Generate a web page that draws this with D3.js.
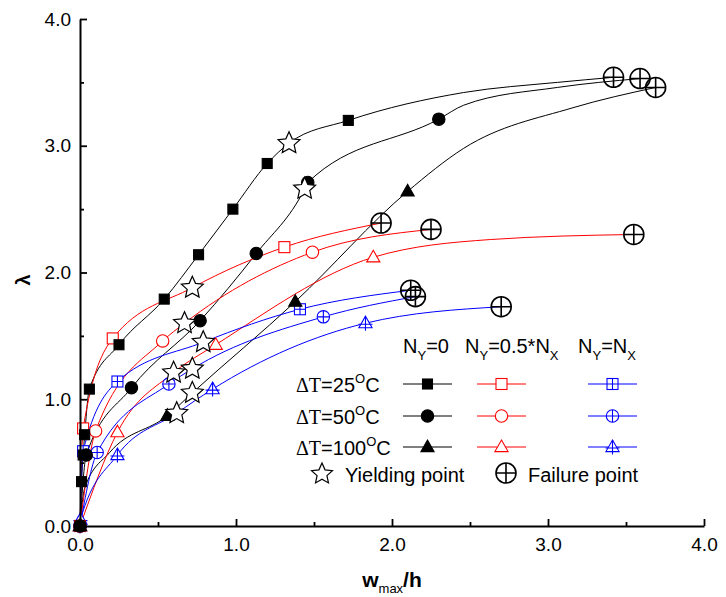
<!DOCTYPE html>
<html><head><meta charset="utf-8">
<script src="https://cdn.jsdelivr.net/npm/d3@7"></script>
<style>body{margin:0;background:#fff}svg{display:block}text{font-family:Arial,"Liberation Sans",sans-serif}</style>
</head><body><svg id="c" width="726" height="597"></svg>
<script>
// ---------- data ----------
const xTicks = [0, 1, 2, 3, 4];
const yTicks = [0, 1, 2, 3, 4];
const minorTicks = [0.5, 1.5, 2.5, 3.5];
const rowLabels = ["25", "50", "100"];
const colLabels = [["Y", "=0", ""], ["Y", "=0.5*N", "X"], ["Y", "=N", "X"]];

// marker points per series (x = w_max/h, y = λ)
const sqNY0   = [[0,0],[0.01,0.35],[0.02,0.56],[0.03,0.72],[0.06,1.08],[0.25,1.43],[0.54,1.79],[0.76,2.14],[0.98,2.50],[1.20,2.86],[1.72,3.20]];
const ciNY0   = [[0,0],[0.04,0.56],[0.33,1.09],[0.77,1.62],[1.13,2.15],[1.46,2.71],[2.30,3.21]];
const trNY0   = [[0,0],[0.56,0.87],[1.38,1.77],[2.10,2.64]];
const sqNY05  = [[0,0],[0.02,0.77],[0.21,1.48],[1.31,2.20]];
const ciNY05  = [[0,0],[0.10,0.75],[0.53,1.46],[1.49,2.16]];
const trNY05  = [[0,0],[0.24,0.74],[0.87,1.43],[1.88,2.12]];
const sqNY1   = [[0,0],[0.02,0.59],[0.24,1.14],[1.41,1.71]];
const ciNY1   = [[0,0],[0.11,0.58],[0.57,1.12],[1.56,1.65]];
const trNY1   = [[0,0],[0.003,0.05],[0.24,0.56],[0.85,1.08],[1.83,1.60]];

// extra curve points (no marker)
const viaSqNY0 = [[2.46,3.42],[3.06,3.50]];
const viaCiNY0 = [[2.46,3.32],[3.06,3.46]];
const viaTrNY0 = [[0.03,0.30],[0.19,0.58],[2.46,2.98],[3.16,3.30]];
const viaTrNY05 = [[2.63,2.26]];

// yielding points and failure points
const yieldPts = [[1.34,3.02],[1.44,2.66],[0.72,1.05],[0.72,1.88],[0.67,1.60],[0.60,1.21],[0.79,1.45],[0.72,1.24],[0.62,0.89]];
const failPts  = [[3.42,3.54],[3.59,3.53],[3.69,3.46],[1.93,2.39],[2.25,2.34],[3.55,2.30],[2.12,1.86],[2.15,1.81],[2.70,1.73]];

const seriesPts = [sqNY0, ciNY0, trNY0, sqNY05, ciNY05, trNY05, sqNY1, ciNY1, trNY1];
const seriesVia = [viaSqNY0, viaCiNY0, viaTrNY0, [], [], viaTrNY05, [], [], []];
const seriesShape = ["sqF","ciF","trF","sqO","ciO","trO","sqX","ciX","trX"];
const seriesColor = ["#000","#000","#000","#ff0000","#ff0000","#ff0000","#0000ff","#0000ff","#0000ff"];

// ---------- chart ----------
const svg = d3.select("#c");
const x = d3.scaleLinear().domain([0,4]).range([80,704]);
const y = d3.scaleLinear().domain([0,4]).range([526,19]);

function markerPath(g, shape, color, cx, cy){
  const s = g.append("g").attr("transform", `translate(${cx},${cy})`);
  const fill = shape.endsWith("F") ? color : "#fff";
  const sw = 1.1;
  if (shape.startsWith("sq")) {
    const h = shape.endsWith("F") ? 5 : 5.5;
    s.append("rect").attr("x",-h).attr("y",-h).attr("width",2*h).attr("height",2*h)
      .attr("fill",fill).attr("stroke",color).attr("stroke-width",sw);
    if (shape.endsWith("X")) s.append("path").attr("d",`M${-h},0H${h}M0,${-h}V${h}`).attr("stroke",color).attr("stroke-width",sw);
  } else if (shape.startsWith("ci")) {
    const r = 6.2;
    s.append("circle").attr("r",r).attr("fill",fill).attr("stroke",color).attr("stroke-width",sw);
    if (shape.endsWith("X")) s.append("path").attr("d",`M${-r},0H${r}M0,${-r}V${r}`).attr("stroke",color).attr("stroke-width",sw);
  } else {
    s.append("path").attr("d","M0,-7L6.6,4.6L-6.6,4.6Z").attr("fill",fill).attr("stroke",color).attr("stroke-width",sw);
    if (shape.endsWith("X")) s.append("path").attr("d","M-7,1H7M0,-7V7.5").attr("stroke",color).attr("stroke-width",sw);
  }
}
function starPath(R){
  const r = R*0.47; let d = "";
  for (let k=0;k<10;k++){
    const a = -Math.PI/2 + k*Math.PI/5, rr = k%2===0 ? R : r;
    d += (k===0?"M":"L") + (rr*Math.cos(a)).toFixed(2) + "," + (rr*Math.sin(a)).toFixed(2);
  }
  return d + "Z";
}
function drawStar(g, cx, cy, R){
  g.append("path").attr("d", starPath(R || 11.5)).attr("transform",`translate(${cx},${cy})`)
    .attr("fill","#fff").attr("stroke","#000").attr("stroke-width",1.2);
}
function drawFail(g, cx, cy){
  const r = 10;
  const s = g.append("g").attr("transform",`translate(${cx},${cy})`);
  s.append("circle").attr("r",r).attr("fill","none").attr("stroke","#000").attr("stroke-width",1.6);
  s.append("path").attr("d",`M${-r},0H${r}M0,${-r}V${r}`).attr("stroke","#000").attr("stroke-width",1.6);
}

// lines
const line = d3.line().x(d=>x(d[0])).y(d=>y(d[1])).curve(d3.curveMonotoneX);
const gl = svg.append("g");
seriesPts.forEach((pts,i)=>{
  const all = pts.concat(seriesVia[i], [yieldPts[i]], [failPts[i]]).sort((a,b)=>a[0]-b[0]);
  gl.append("path").attr("d", line(all)).attr("fill","none").attr("stroke",seriesColor[i]).attr("stroke-width",1);
});
// markers
const gm = svg.append("g");
[6,7,8,3,4,5,0,1,2].forEach(i=>{
  seriesPts[i].forEach(p=>markerPath(gm, seriesShape[i], seriesColor[i], x(p[0]), y(p[1])));
});
const gs = svg.append("g");
yieldPts.forEach(p=>drawStar(gs, x(p[0]), y(p[1])));
failPts.forEach(p=>drawFail(gs, x(p[0]), y(p[1])));

// axes
const fmt = d3.format(".1f");
svg.append("g").attr("transform","translate(0,526)")
  .call(d3.axisBottom(x).tickValues(xTicks).tickFormat(fmt).tickSizeInner(-7).tickSizeOuter(0).tickPadding(12));
svg.append("g").attr("transform","translate(80,0)")
  .call(d3.axisLeft(y).tickValues(yTicks).tickFormat(fmt).tickSizeInner(-7).tickSizeOuter(0).tickPadding(9));
svg.append("g").attr("transform","translate(0,526)")
  .call(d3.axisBottom(x).tickValues(minorTicks).tickFormat("").tickSizeInner(-4).tickSizeOuter(0))
  .select(".domain").remove();
svg.append("g").attr("transform","translate(80,0)")
  .call(d3.axisLeft(y).tickValues(minorTicks).tickFormat("").tickSizeInner(-4).tickSizeOuter(0))
  .select(".domain").remove();
svg.selectAll(".domain").attr("stroke-width",2).attr("stroke","#000");
svg.selectAll(".tick line").attr("stroke-width",1.8).attr("stroke","#000");
svg.selectAll(".tick text").attr("font-size",19).attr("font-family","Arial, 'Liberation Sans', sans-serif").attr("fill","#000");

// axis titles
const xt = svg.append("text").attr("x",392).attr("y",587).attr("text-anchor","middle").attr("fill","#000");
xt.append("tspan").text("w").attr("font-weight","bold").attr("font-size",21);
xt.append("tspan").text("max").attr("font-size",13).attr("dy",6);
xt.append("tspan").text("/h").attr("font-weight","bold").attr("font-size",21).attr("dy",-6);
svg.append("text").attr("transform","translate(30,280) rotate(-90)").attr("text-anchor","middle")
  .attr("font-size",20).attr("font-weight","bold").attr("fill","#000").text("λ");

// legend
const lg = svg.append("g");
const colX = [403, 465, 578];
colLabels.forEach((c,i)=>{
  const t = lg.append("text").attr("x",colX[i]).attr("y",353).attr("font-size",20).attr("fill","#000");
  t.append("tspan").text("N");
  t.append("tspan").text(c[0]).attr("font-size",13).attr("dy",7);
  t.append("tspan").text(c[1]).attr("dy",-7);
  if (c[2]) t.append("tspan").text(c[2]).attr("font-size",13).attr("dy",7);
});
const rowY = [384, 416, 447];
const segX = [[403,452],[477,526],[588,637]];
rowLabels.forEach((r,ri)=>{
  const t = lg.append("text").attr("x",296).attr("y",rowY[ri]+8).attr("font-size",20).attr("fill","#000");
  t.append("tspan").text("ΔT").attr("font-family","'Liberation Serif','Times New Roman',serif");
  t.append("tspan").text("=" + r);
  t.append("tspan").text("O").attr("font-size",13).attr("dy",-9);
  t.append("tspan").text("C").attr("dy",9);
  for (let ci=0; ci<3; ci++){
    const si = ci*3 + ri;
    lg.append("line").attr("x1",segX[ci][0]).attr("x2",segX[ci][1]).attr("y1",rowY[ri]).attr("y2",rowY[ri])
      .attr("stroke",seriesColor[si]).attr("stroke-width",1);
    markerPath(lg, seriesShape[si], seriesColor[si], (segX[ci][0]+segX[ci][1])/2, rowY[ri]);
  }
});
drawStar(lg, 322, 474, 11);
lg.append("text").attr("x",345).attr("y",482).attr("font-size",20).attr("fill","#000").text("Yielding point");
drawFail(lg, 506, 473);
lg.append("text").attr("x",528).attr("y",482).attr("font-size",20).attr("fill","#000").text("Failure point");
</script></body></html>
